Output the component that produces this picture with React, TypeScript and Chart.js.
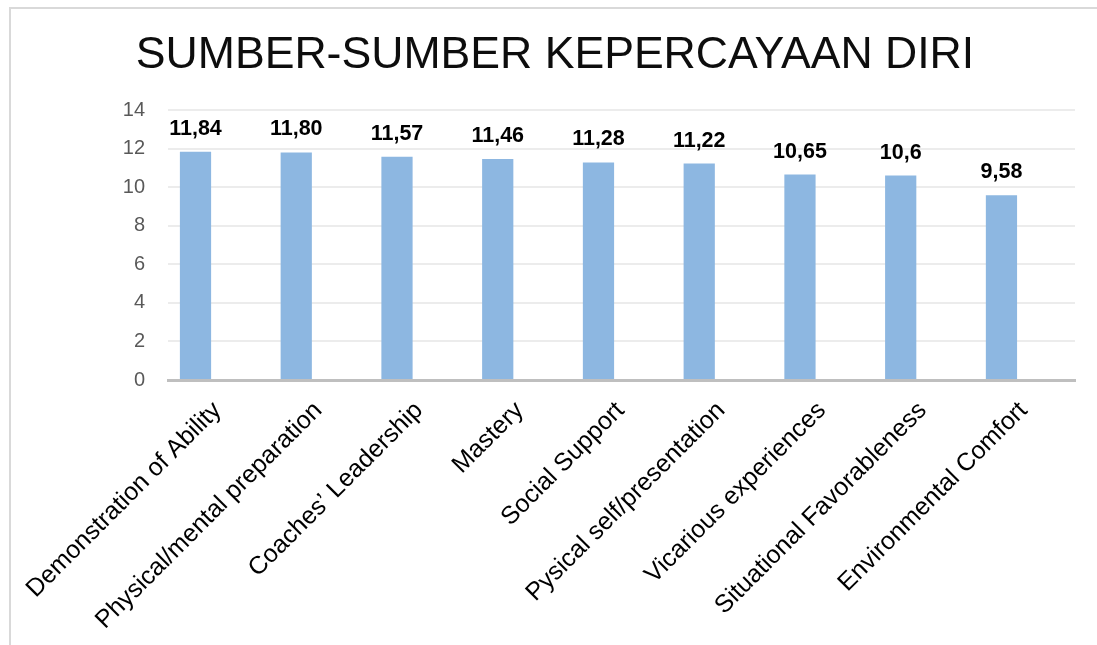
import React, { useEffect, useRef } from "react";
import { Chart, registerables } from "chart.js";

Chart.register(...registerables);

const TITLE = "SUMBER-SUMBER KEPERCAYAAN DIRI";
const categories = [
  "Demonstration of Ability",
  "Physical/mental preparation",
  "Coaches\u2019 Leadership",
  "Mastery",
  "Social Support",
  "Pysical self/presentation",
  "Vicarious experiences",
  "Situational Favorableness",
  "Environmental Comfort",
];
const values = [11.84, 11.8, 11.57, 11.46, 11.28, 11.22, 10.65, 10.6, 9.58];
const valueLabels = ["11,84", "11,80", "11,57", "11,46", "11,28", "11,22", "10,65", "10,6", "9,58"];
const yTicks = [0, 2, 4, 6, 8, 10, 12, 14];

const FONT = '"Liberation Sans", Arial, sans-serif';

export default function App() {
  const ref = useRef<HTMLCanvasElement | null>(null);

  useEffect(() => {
    if (!ref.current) return;
    const titlePlugin = {
      id: "customTitle",
      afterDraw(chart: any) {
        const ctx = chart.ctx;
        ctx.save();
        ctx.font = `44.6px ${FONT}`;
        ctx.fillStyle = "#0d0d0d";
        ctx.textAlign = "center";
        ctx.textBaseline = "alphabetic";
        ctx.fillText(TITLE, 555, 68);
        ctx.restore();
      },
    };
    const labelPlugin = {
      id: "valueLabels",
      afterDatasetsDraw(chart: any) {
        const ctx = chart.ctx;
        const meta = chart.getDatasetMeta(0);
        ctx.save();
        ctx.font = `bold 21.5px ${FONT}`;
        ctx.fillStyle = "#000000";
        ctx.textAlign = "center";
        ctx.textBaseline = "alphabetic";
        meta.data.forEach((bar: any, i: number) => {
          ctx.fillText(valueLabels[i], bar.x, bar.y - 17);
        });
        ctx.restore();
      },
    };

    const chart = new Chart(ref.current, {
      type: "bar",
      data: {
        datasets: [
          {
            data: values.map((v, i) => ({ x: i, y: v })),
            backgroundColor: "#8db7e1",
            borderWidth: 0,
            barPercentage: 0.31,
            categoryPercentage: 1,
          },
        ],
      },
      options: {
        animation: false,
        responsive: false,
        maintainAspectRatio: false,
        layout: { padding: { top: 110, right: 22, left: 0, bottom: 0 } },
        plugins: {
          legend: { display: false },
          title: { display: false },
          tooltip: { enabled: false },
        },
        scales: {
          x: {
            type: "linear",
            offset: false,
            min: -0.273,
            max: 8.73,
            afterBuildTicks: (scale: any) => {
              scale.ticks = categories.map((_, i) => ({ value: i }));
            },
            afterFit: (scale: any) => {
              scale.height = 265;
              scale.paddingLeft = 0;
              scale.paddingRight = 0;
            },
            grid: { display: false, drawTicks: false, offset: false },
            border: { display: true, color: "#bfbfbf", width: 3 },
            ticks: {
              autoSkip: false,
              minRotation: 45,
              maxRotation: 45,
              padding: 16,
              labelOffset: 22,
              color: "#000000",
              font: { family: FONT, size: 25 },
              callback: (v: any) => categories[v as number] ?? "",
            },
          },
          y: {
            min: 0,
            max: 14,
            afterBuildTicks: (scale: any) => {
              scale.ticks = yTicks.map((v) => ({ value: v }));
            },
            afterFit: (scale: any) => {
              scale.width = 168;
            },
            grid: { color: "#ececec", lineWidth: 2, drawTicks: false },
            border: { display: false },
            ticks: {
              padding: 23,
              color: "#595959",
              font: { family: FONT, size: 20 },
            },
          },
        },
      },
      plugins: [titlePlugin, labelPlugin],
    });
    return () => chart.destroy();
  }, []);

  return (
    <div style={{ position: "fixed", left: 0, top: 0, width: 1097, height: 645, background: "#fff" }}>
      <div
        style={{
          position: "absolute",
          left: 9,
          top: 7,
          right: 0,
          bottom: 0,
          borderTop: "2px solid #d9d9d9",
          borderLeft: "2px solid #d9d9d9",
        }}
      />
      <canvas ref={ref} width={1097} height={645} style={{ position: "absolute", left: 0, top: 0 }} />
    </div>
  );
}
